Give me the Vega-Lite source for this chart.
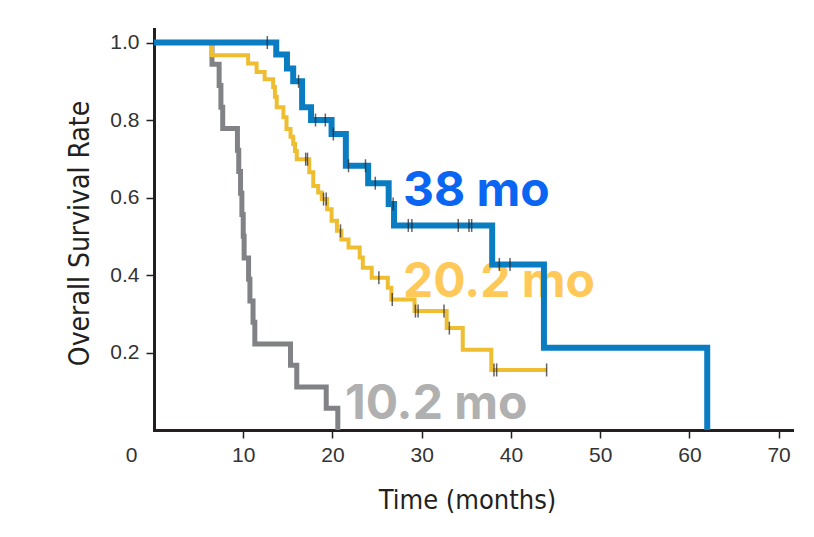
{
  "$schema": "https://vega.github.io/schema/vega-lite/v6.json",
  "width": 638,
  "height": 401,
  "autosize": {"type": "none"},
  "padding": {"left": 154, "top": 29, "right": 22, "bottom": 107},
  "background": "white",
  "config": {"view": {"stroke": null}},
  "datasets": {
    "curves": [
      {"arm": "C", "t": 0, "S": 1},
      {"arm": "C", "t": 6.5, "S": 0.944},
      {"arm": "C", "t": 7.3, "S": 0.889},
      {"arm": "C", "t": 7.5, "S": 0.833},
      {"arm": "C", "t": 7.7, "S": 0.778},
      {"arm": "C", "t": 9.35, "S": 0.722},
      {"arm": "C", "t": 9.5, "S": 0.667},
      {"arm": "C", "t": 9.7, "S": 0.611},
      {"arm": "C", "t": 9.85, "S": 0.556},
      {"arm": "C", "t": 10.0, "S": 0.5},
      {"arm": "C", "t": 10.1, "S": 0.444},
      {"arm": "C", "t": 10.6, "S": 0.389},
      {"arm": "C", "t": 10.75, "S": 0.333},
      {"arm": "C", "t": 11.1, "S": 0.278},
      {"arm": "C", "t": 11.3, "S": 0.222},
      {"arm": "C", "t": 15.3, "S": 0.167},
      {"arm": "C", "t": 16.0, "S": 0.111},
      {"arm": "C", "t": 19.3, "S": 0.056},
      {"arm": "C", "t": 20.6, "S": 0},
      {"arm": "B", "t": 0, "S": 1},
      {"arm": "B", "t": 6.5, "S": 0.967},
      {"arm": "B", "t": 10.55, "S": 0.946},
      {"arm": "B", "t": 11.5, "S": 0.924},
      {"arm": "B", "t": 12.4, "S": 0.905},
      {"arm": "B", "t": 13.35, "S": 0.885},
      {"arm": "B", "t": 13.55, "S": 0.86},
      {"arm": "B", "t": 13.75, "S": 0.833},
      {"arm": "B", "t": 14.5, "S": 0.807},
      {"arm": "B", "t": 14.85, "S": 0.777},
      {"arm": "B", "t": 15.3, "S": 0.757},
      {"arm": "B", "t": 15.6, "S": 0.738},
      {"arm": "B", "t": 15.8, "S": 0.72},
      {"arm": "B", "t": 16.0, "S": 0.699},
      {"arm": "B", "t": 17.4, "S": 0.665},
      {"arm": "B", "t": 17.85, "S": 0.63},
      {"arm": "B", "t": 18.4, "S": 0.613},
      {"arm": "B", "t": 18.8, "S": 0.596},
      {"arm": "B", "t": 19.4, "S": 0.57},
      {"arm": "B", "t": 19.9, "S": 0.54},
      {"arm": "B", "t": 20.5, "S": 0.514},
      {"arm": "B", "t": 21.0, "S": 0.492},
      {"arm": "B", "t": 21.8, "S": 0.471},
      {"arm": "B", "t": 23.05, "S": 0.445},
      {"arm": "B", "t": 23.4, "S": 0.419},
      {"arm": "B", "t": 24.4, "S": 0.393},
      {"arm": "B", "t": 26.2, "S": 0.367},
      {"arm": "B", "t": 26.6, "S": 0.337},
      {"arm": "B", "t": 29.2, "S": 0.307},
      {"arm": "B", "t": 32.8, "S": 0.263},
      {"arm": "B", "t": 34.6, "S": 0.207},
      {"arm": "B", "t": 37.8, "S": 0.155},
      {"arm": "B", "t": 44.0, "S": 0.155},
      {"arm": "A", "t": 0, "S": 1},
      {"arm": "A", "t": 13.7, "S": 0.969},
      {"arm": "A", "t": 14.9, "S": 0.933},
      {"arm": "A", "t": 15.6, "S": 0.9},
      {"arm": "A", "t": 16.6, "S": 0.833},
      {"arm": "A", "t": 17.6, "S": 0.8},
      {"arm": "A", "t": 19.9, "S": 0.764},
      {"arm": "A", "t": 21.5, "S": 0.682},
      {"arm": "A", "t": 24.0, "S": 0.637},
      {"arm": "A", "t": 26.3, "S": 0.583},
      {"arm": "A", "t": 26.9, "S": 0.528},
      {"arm": "A", "t": 37.9, "S": 0.427},
      {"arm": "A", "t": 43.7, "S": 0.212},
      {"arm": "A", "t": 62.0, "S": 0}
    ],
    "censors": [
      {"arm": "A", "t": 12.7, "S": 1},
      {"arm": "A", "t": 16.2, "S": 0.9},
      {"arm": "A", "t": 18.1, "S": 0.8},
      {"arm": "A", "t": 19.2, "S": 0.8},
      {"arm": "A", "t": 20.1, "S": 0.764},
      {"arm": "A", "t": 21.8, "S": 0.682},
      {"arm": "A", "t": 23.7, "S": 0.682},
      {"arm": "A", "t": 24.8, "S": 0.637},
      {"arm": "A", "t": 26.8, "S": 0.583},
      {"arm": "A", "t": 28.5, "S": 0.528},
      {"arm": "A", "t": 28.9, "S": 0.528},
      {"arm": "A", "t": 34.1, "S": 0.528},
      {"arm": "A", "t": 35.3, "S": 0.528},
      {"arm": "A", "t": 35.6, "S": 0.528},
      {"arm": "A", "t": 38.7, "S": 0.427},
      {"arm": "A", "t": 39.9, "S": 0.427},
      {"arm": "B", "t": 17.0, "S": 0.699},
      {"arm": "B", "t": 17.2, "S": 0.699},
      {"arm": "B", "t": 19.0, "S": 0.596},
      {"arm": "B", "t": 19.3, "S": 0.596},
      {"arm": "B", "t": 20.9, "S": 0.514},
      {"arm": "B", "t": 25.2, "S": 0.393},
      {"arm": "B", "t": 26.7, "S": 0.337},
      {"arm": "B", "t": 29.3, "S": 0.307},
      {"arm": "B", "t": 29.6, "S": 0.307},
      {"arm": "B", "t": 32.5, "S": 0.307},
      {"arm": "B", "t": 33.1, "S": 0.263},
      {"arm": "B", "t": 38.1, "S": 0.155},
      {"arm": "B", "t": 38.4, "S": 0.155},
      {"arm": "B", "t": 44.0, "S": 0.155}
    ],
    "labels": [
      {"label": "38 mo", "t": 27.9, "S": 0.578},
      {"label": "20.2 mo", "t": 27.9, "S": 0.342},
      {"label": "10.2 mo", "t": 21.4, "S": 0.0285}
    ]
  },
  "encoding": {
    "x": {
      "field": "t",
      "type": "quantitative",
      "scale": {"domain": [0, 71.5], "nice": false, "zero": false},
      "axis": {
        "title": "Time (months)",
        "values": [0, 10, 20, 30, 40, 50, 60, 70],
        "grid": false,
        "labelFlush": false,
        "labelOverlap": false,
        "domainColor": "#231f20",
        "domainWidth": 3,
        "domainCap": "square",
        "tickColor": "#231f20",
        "tickWidth": 1.5,
        "tickSize": 8,
        "tickOpacity": {"condition": {"test": "datum.value === 0", "value": 0}, "value": 1},
        "labelOffset": {"condition": {"test": "datum.value === 0", "value": -23}, "value": 0},
        "labelFont": "Liberation Sans",
        "labelFontSize": 21,
        "labelColor": "#333333",
        "labelPadding": 6,
        "titleFont": "DejaVu Sans Condensed, Liberation Sans Narrow, Liberation Sans",
        "titleFontSize": 27,
        "titleFontWeight": "normal",
        "titleColor": "#231f20",
        "titleX": 313,
        "titleY": 78,
        "titleAlign": "center",
        "titleBaseline": "alphabetic"
      }
    },
    "y": {
      "field": "S",
      "type": "quantitative",
      "scale": {"domain": [0, 1.035], "nice": false, "zero": false},
      "axis": {
        "title": "Overall Survival Rate",
        "values": [0.2, 0.4, 0.6, 0.8, 1.0],
        "format": ".1f",
        "grid": false,
        "labelOverlap": false,
        "domainColor": "#231f20",
        "domainWidth": 3,
        "domainCap": "square",
        "tickColor": "#231f20",
        "tickWidth": 1.5,
        "tickSize": 8,
        "labelFont": "Liberation Sans",
        "labelFontSize": 21,
        "labelColor": "#333333",
        "labelPadding": 7,
        "titleFont": "DejaVu Sans Condensed, Liberation Sans Narrow, Liberation Sans",
        "titleFontSize": 28,
        "titleFontWeight": "normal",
        "titleColor": "#231f20",
        "titleX": -66,
        "titleY": 204,
        "titleAngle": 270,
        "titleAlign": "center",
        "titleBaseline": "alphabetic"
      }
    }
  },
  "layer": [
    {
      "data": {"name": "labels"},
      "mark": {"type": "text", "align": "left", "baseline": "alphabetic", "font": "Inter", "fontWeight": "bold", "fontSize": 48},
      "encoding": {
        "text": {"field": "label", "type": "nominal"},
        "color": {
          "field": "label",
          "type": "nominal",
          "scale": {"domain": ["38 mo", "20.2 mo", "10.2 mo"], "range": ["#0a66f2", "#ffc95a", "#b0b0b0"]},
          "legend": null
        }
      }
    },
    {
      "data": {"name": "curves"},
      "transform": [{"filter": "datum.arm === 'C'"}],
      "mark": {"type": "line", "interpolate": "step-after", "color": "#808285", "strokeWidth": 5, "clip": false},
      "encoding": {"order": {"field": "t", "type": "quantitative"}}
    },
    {
      "data": {"name": "curves"},
      "transform": [{"filter": "datum.arm === 'B'"}],
      "mark": {"type": "line", "interpolate": "step-after", "color": "#eebd30", "strokeWidth": 4, "clip": false},
      "encoding": {"order": {"field": "t", "type": "quantitative"}}
    },
    {
      "data": {"name": "curves"},
      "transform": [{"filter": "datum.arm === 'A'"}],
      "mark": {"type": "line", "interpolate": "step-after", "color": "#0a7dc2", "strokeWidth": 6, "clip": false},
      "encoding": {"order": {"field": "t", "type": "quantitative"}}
    },
    {
      "data": {"name": "censors"},
      "mark": {"type": "tick", "orient": "vertical", "color": "#231f20", "thickness": 1.5, "size": 13},
      "encoding": {}
    }
  ]
}
